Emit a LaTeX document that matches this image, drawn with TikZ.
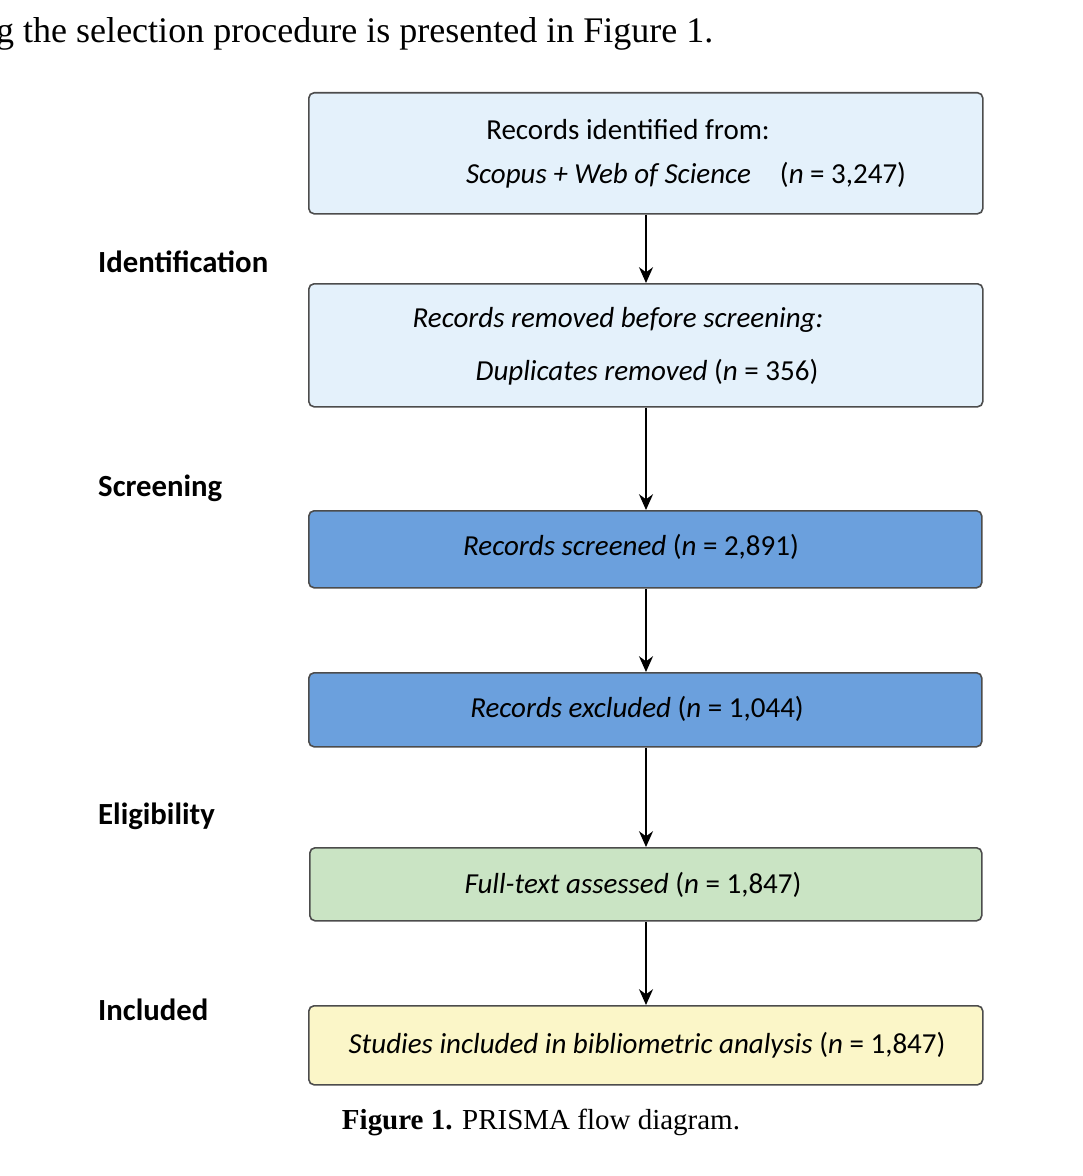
\documentclass[tikz,border=0pt]{standalone}
\usepackage{fontspec}
\setmainfont{Carlito}
\newfontfamily\capfont{Liberation Serif}
\usetikzlibrary{arrows.meta}

\tikzset{
  box/.style={draw=black!70, line width=0.9pt, rounded corners=3pt, anchor=north west},
  idbox/.style={box, fill={rgb,255:red,228;green,241;blue,251}},
  scbox/.style={box, fill={rgb,255:red,107;green,160;blue,221}},
  elbox/.style={box, fill={rgb,255:red,202;green,228;blue,196}},
  inbox/.style={box, fill={rgb,255:red,251;green,246;blue,200}},
  txt/.style={font=\fontsize{16.5}{19}\selectfont},
  phase/.style={anchor=west, font=\fontsize{17.5}{20}\selectfont\bfseries},
  flow/.style={-{Stealth[length=9pt,width=8pt]}, line width=0.9pt}
}

\begin{document}
\begin{tikzpicture}[x=0.02cm, y=-0.02cm]
  \useasboundingbox (0,0) rectangle (1082,1176);
  % surrounding text
  \node[anchor=west, font=\capfont\fontsize{20.5}{24}\selectfont] (intro) at (-10,34) {g the selection procedure is presented in Figure 1.};
  \node[font=\capfont\fontsize{16.5}{19}\selectfont] (cap) at (541,1122) {\textbf{Figure 1.} PRISMA flow diagram.};
  % boxes
  \node[idbox, minimum width=674*0.02cm, minimum height=121*0.02cm] (ident) at (308,92) {};
  \node[idbox, minimum width=674*0.02cm, minimum height=123*0.02cm] (dupl) at (308,283) {};
  \node[scbox, minimum width=673*0.02cm, minimum height=77*0.02cm] (screen) at (308,510) {};
  \node[scbox, minimum width=673*0.02cm, minimum height=74*0.02cm] (excl) at (308,672) {};
  \node[elbox, minimum width=672*0.02cm, minimum height=73*0.02cm] (full) at (309,847) {};
  \node[inbox, minimum width=674*0.02cm, minimum height=79*0.02cm] (incl) at (308,1005) {};
  % box texts
  \node[txt] (identa) at (628,130) {Records identified from:};
  \node[txt] (identb) at (686,175) {\textit{Scopus + Web of Science}\quad(\textit{n} = 3,247)};
  \node[txt] (dupla) at (618,320) {\textit{Records removed before screening:}};
  \node[txt] (duplb) at (647,372) {\textit{Duplicates removed} (\textit{n} = 356)};
  \node[txt] (screent) at (631,547) {\textit{Records screened} (\textit{n} = 2,891)};
  \node[txt] (exclt) at (637,709) {\textit{Records excluded} (\textit{n} = 1,044)};
  \node[txt] (fullt) at (633,885) {\textit{Full-text assessed} (\textit{n} = 1,847)};
  \node[txt] (inclt) at (647,1045) {\textit{Studies included in bibliometric analysis} (\textit{n} = 1,847)};
  % phases
  \node[phase] (pid) at (92,262) {Identification};
  \node[phase] (psc) at (92,488) {Screening};
  \node[phase] (pel) at (92,816) {Eligibility};
  \node[phase] (pin) at (92,1010) {Included};
  % arrows
  \draw[flow] (ident.south -| 646,0) -- (dupl.north -| 646,0);
  \draw[flow] (dupl.south -| 646,0) -- (screen.north -| 646,0);
  \draw[flow] (screen.south -| 646,0) -- (excl.north -| 646,0);
  \draw[flow] (excl.south -| 646,0) -- (full.north -| 646,0);
  \draw[flow] (full.south -| 646,0) -- (incl.north -| 646,0);
\end{tikzpicture}
\end{document}
